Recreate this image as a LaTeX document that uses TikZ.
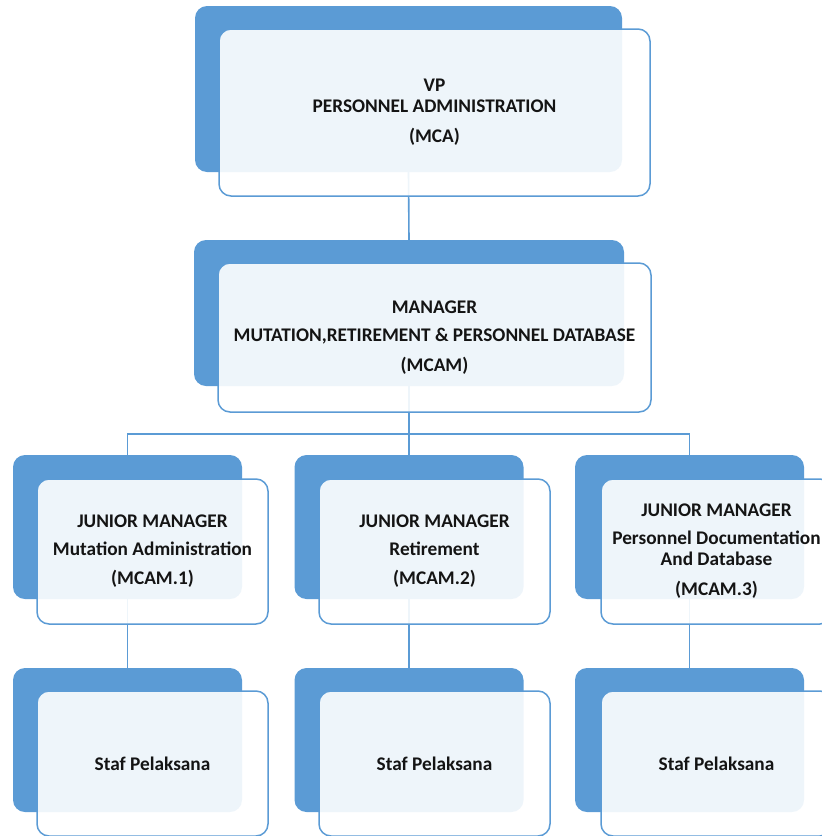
\documentclass[tikz,border=0pt]{standalone}
\usepackage{fontspec}
\setmainfont{Carlito}
\definecolor{OrgBlue}{RGB}{91,155,213}
\definecolor{OrgText}{RGB}{20,20,20}
\usepackage{tikz}
\usetikzlibrary{positioning,calc}

\begin{document}
\begin{tikzpicture}[x=1pt, y=-1pt,
        backbox/.style={rectangle, fill=OrgBlue, rounded corners=12pt,
                        inner sep=0pt, outer sep=0pt},
        frontbox/.style={rectangle, draw=OrgBlue, line width=1.5pt, fill=white,
                         fill opacity=0.9, text opacity=1, rounded corners=12pt,
                         inner sep=0pt, outer sep=0pt, align=center,
                         font=\fontsize{19.3}{21}\selectfont\bfseries, text=OrgText},
        conn/.style={draw=OrgBlue, line width=1.6pt}
      ]
        \useasboundingbox (0,0) rectangle (822,836);
        % back plates
        \node[backbox, minimum width=427pt, minimum height=166pt] (vpback)  at (408.5,89) {};
        \node[backbox, minimum width=430pt, minimum height=146pt] (mgrback) at (409,313) {};
        \node[backbox, minimum width=229pt, minimum height=144pt] (jm1back) at (127.5,527) {};
        \node[backbox, minimum width=229pt, minimum height=144pt] (jm2back) at (409,527) {};
        \node[backbox, minimum width=229pt, minimum height=144pt] (jm3back) at (689.5,527) {};
        \node[backbox, minimum width=229pt, minimum height=144pt] (st1back) at (127.5,740) {};
        \node[backbox, minimum width=229pt, minimum height=144pt] (st2back) at (409,740) {};
        \node[backbox, minimum width=229pt, minimum height=144pt] (st3back) at (689.5,740) {};
        % connectors
        \coordinate (bus) at ($(mgrback.south)+(0,48)$);
        \draw[conn] (vpback.south) -- (mgrback.north);
        \draw[conn] (mgrback.south) -- (bus);
        \draw[conn] (jm1back.north) |- (bus) -| (jm3back.north);
        \draw[conn] (bus) -- (jm2back.north);
        \draw[conn] (jm1back.south) -- (st1back.north);
        \draw[conn] (jm2back.south) -- (st2back.north);
        \draw[conn] (jm3back.south) -- (st3back.north);
        % front cards
        \node[frontbox, minimum width=431pt, minimum height=167pt] (vp) at (434.5,112.5)
          {VP\\PERSONNEL ADMINISTRATION\\[9pt](MCA)};
        \node[frontbox, minimum width=433pt, minimum height=149pt] (mgr) at (434.5,337.5)
          {MANAGER\\[7pt]MUTATION,RETIREMENT \& PERSONNEL DATABASE\\[9pt](MCAM)};
        \node[frontbox, minimum width=231pt, minimum height=145pt] (jm1) at (152.5,551.5)
          {JUNIOR MANAGER\\[7pt]Mutation Administration\\[8pt](MCAM.1)};
        \node[frontbox, minimum width=231pt, minimum height=145pt] (jm2) at (434.5,551.5)
          {JUNIOR MANAGER\\[7pt]Retirement\\[8pt](MCAM.2)};
        \node[frontbox, minimum width=231pt, minimum height=145pt] (jm3) at (716.5,551.5)
          {JUNIOR MANAGER\\[7pt]Personnel Documentation\\And Database\\[9pt](MCAM.3)};
        \node[frontbox, minimum width=231pt, minimum height=145pt] (st1) at (152.5,763.5) {Staf Pelaksana};
        \node[frontbox, minimum width=231pt, minimum height=145pt] (st2) at (434.5,763.5) {Staf Pelaksana};
        \node[frontbox, minimum width=231pt, minimum height=145pt] (st3) at (716.5,763.5) {Staf Pelaksana};
      \end{tikzpicture}
\end{document}
